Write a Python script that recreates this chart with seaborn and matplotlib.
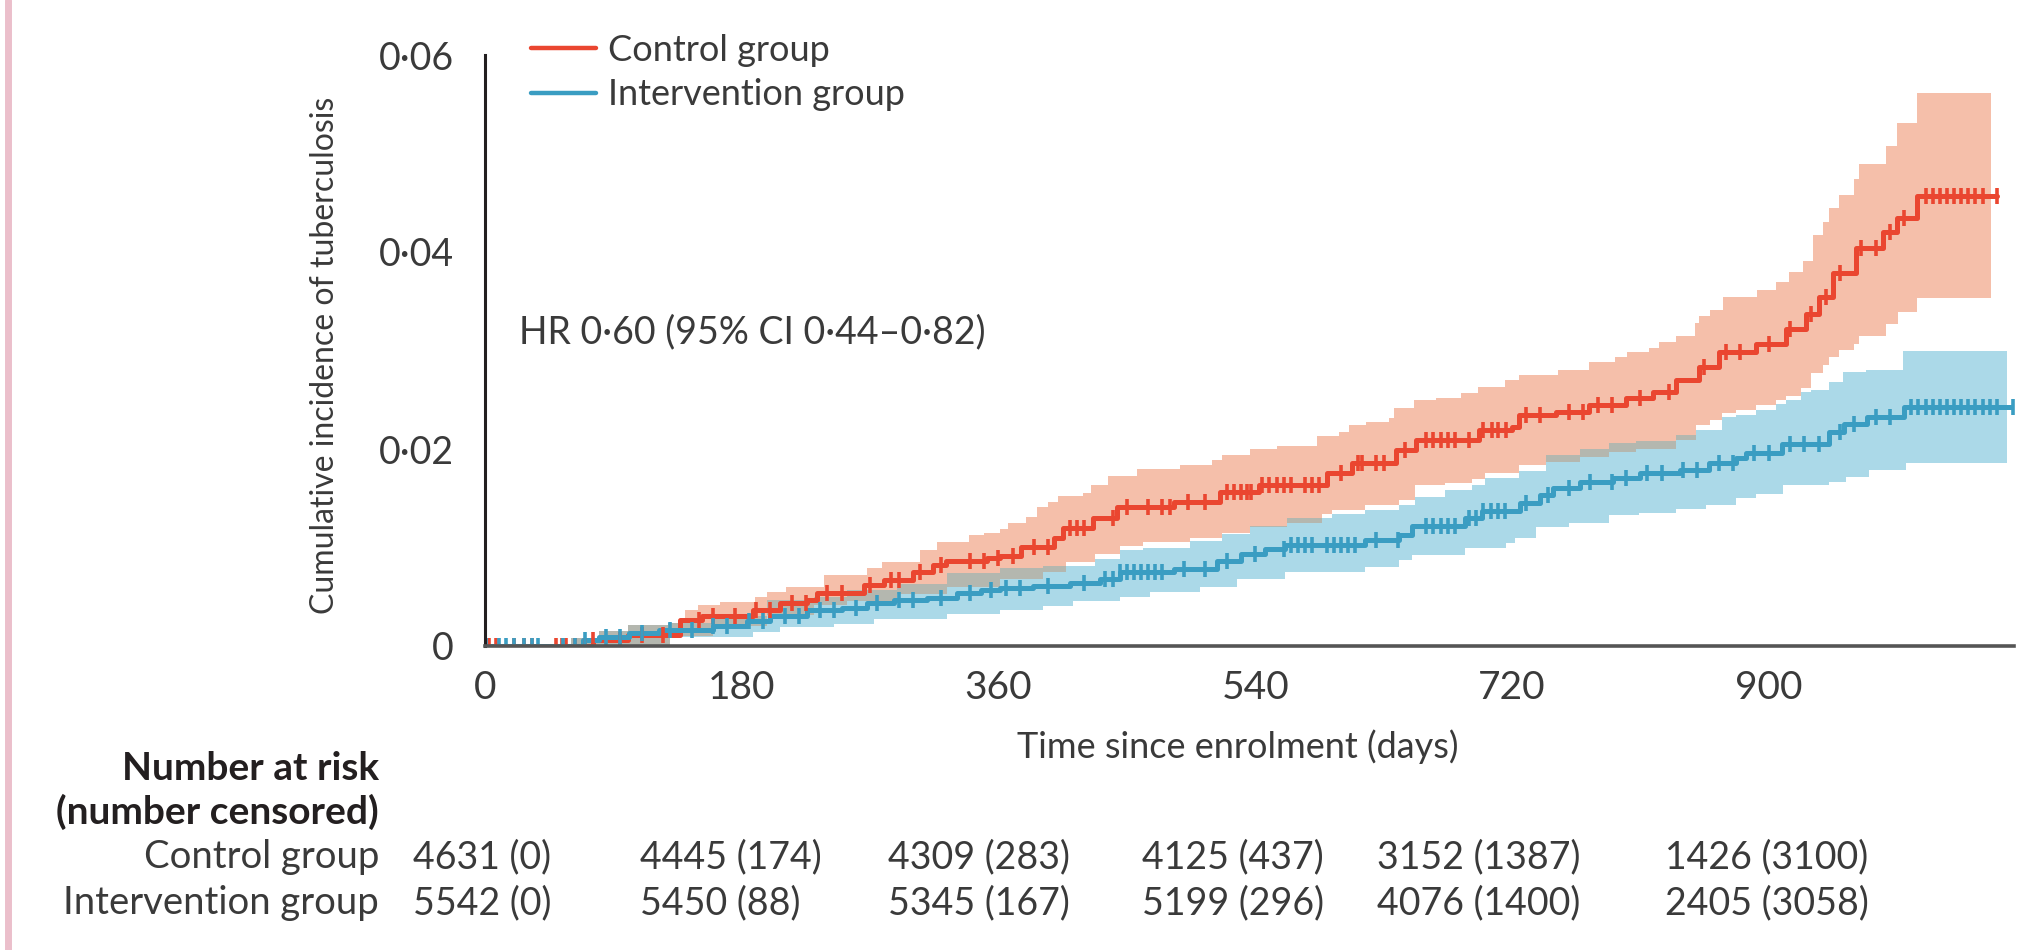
#%% Imports

import numpy as np
import pandas as pd
import matplotlib
matplotlib.use('Agg')
import matplotlib.pyplot as plt
from matplotlib.lines import Line2D
import seaborn as sns

#%% Data

groups = ['Control group', 'Intervention group']

# cumulative incidence step curves: day where each step starts, value after it
ctrl_days = [0, 76, 100, 137, 152, 188, 207, 226, 233, 266,
             280, 300, 314, 323, 352, 361, 376, 399, 405, 426,
             443, 483, 515, 543, 590, 608, 639, 653, 697, 720,
             725, 751, 774, 800, 819, 835, 851, 865, 891, 912,
             926, 935, 945, 961, 980, 990, 1004, 1060]
ctrl_val = [0, 0.0006, 0.0011, 0.0026, 0.0030, 0.0037, 0.0044, 0.0047, 0.0054, 0.0062,
            0.0067, 0.0075, 0.0082, 0.0086, 0.0089, 0.0091, 0.0101, 0.0110, 0.0120, 0.0130,
            0.0141, 0.0146, 0.0156, 0.0163, 0.0176, 0.0186, 0.0199, 0.0209, 0.0219, 0.0222,
            0.0235, 0.0238, 0.0245, 0.0252, 0.0258, 0.0270, 0.0283, 0.0298, 0.0307, 0.0322,
            0.0337, 0.0354, 0.0379, 0.0404, 0.0420, 0.0435, 0.0457, 0.0457]

int_days = [0, 69, 80, 101, 122, 160, 184, 200, 226, 250,
            268, 287, 310, 331, 348, 361, 384, 410, 431, 445,
            483, 513, 530, 547, 561, 617, 641, 650, 687, 699,
            726, 740, 749, 768, 791, 810, 838, 858, 877, 884,
            909, 942, 953, 969, 995, 1071]
int_val = [0, 0.0006, 0.0009, 0.0013, 0.0016, 0.0020, 0.0025, 0.0030, 0.0037, 0.0039,
           0.0044, 0.0047, 0.0049, 0.0054, 0.0057, 0.0059, 0.0061, 0.0064, 0.0068, 0.0075,
           0.0078, 0.0086, 0.0093, 0.0098, 0.0103, 0.0108, 0.0113, 0.0122, 0.0130, 0.0137,
           0.0145, 0.0153, 0.0160, 0.0166, 0.0171, 0.0176, 0.0179, 0.0186, 0.0191, 0.0196,
           0.0205, 0.0217, 0.0225, 0.0232, 0.0243, 0.0243]

# 95% CI bands
ctrl_hi_days = [0, 75, 100, 120, 135, 140, 149, 165, 189, 198,
                211, 238, 268, 278, 305, 317, 339, 350, 361, 367,
                379, 387, 395, 402, 419, 425, 437, 457, 487, 510,
                517, 536, 555, 583, 599, 606, 618, 634, 637, 651,
                667, 684, 696, 715, 725, 752, 774, 792, 801, 816,
                823, 835, 848, 851, 859, 868, 892, 905, 914, 924,
                931, 938, 942, 949, 960, 963, 982, 990, 1004, 1056]
ctrl_hi_val = [0, 0.0006, 0.0012, 0.0015, 0.0023, 0.0037, 0.0042, 0.0045, 0.0050, 0.0055,
               0.0060, 0.0072, 0.0079, 0.0085, 0.0097, 0.0106, 0.0113, 0.0115, 0.0119, 0.0125,
               0.0131, 0.0141, 0.0146, 0.0152, 0.0155, 0.0163, 0.0173, 0.0180, 0.0184, 0.0189,
               0.0194, 0.0200, 0.0203, 0.0213, 0.0217, 0.0224, 0.0227, 0.0231, 0.0242, 0.0250,
               0.0252, 0.0257, 0.0263, 0.0270, 0.0275, 0.0280, 0.0288, 0.0293, 0.0298, 0.0303,
               0.0309, 0.0315, 0.0328, 0.0335, 0.0341, 0.0354, 0.0361, 0.0370, 0.0380, 0.0391,
               0.0417, 0.0430, 0.0445, 0.0458, 0.0474, 0.0489, 0.0508, 0.0531, 0.0561, 0.0561]

ctrl_lo_days = [0, 130, 160, 198, 231, 254, 289, 324, 361, 391,
                407, 428, 445, 461, 494, 517, 536, 562, 587, 594,
                617, 641, 652, 673, 692, 701, 725, 744, 768, 788,
                807, 835, 849, 859, 867, 877, 891, 905, 912, 923,
                930, 938, 942, 949, 960, 963, 982, 991, 1004, 1056]
ctrl_lo_val = [0, 0.0010, 0.0020, 0.0031, 0.0042, 0.0046, 0.0053, 0.0060, 0.0068, 0.0075,
               0.0085, 0.0093, 0.0102, 0.0106, 0.0110, 0.0115, 0.0121, 0.0125, 0.0134, 0.0138,
               0.0143, 0.0148, 0.0163, 0.0165, 0.0170, 0.0176, 0.0184, 0.0187, 0.0192, 0.0197,
               0.0200, 0.0209, 0.0224, 0.0229, 0.0237, 0.0240, 0.0245, 0.0250, 0.0254, 0.0262,
               0.0277, 0.0285, 0.0293, 0.0301, 0.0307, 0.0315, 0.0327, 0.0339, 0.0353, 0.0353]

int_hi_days = [0, 60, 80, 100, 128, 160, 198, 231, 254, 289,
               324, 361, 391, 428, 445, 461, 494, 517, 536, 562,
               594, 617, 641, 652, 673, 692, 701, 725, 744, 768,
               788, 807, 835, 849, 867, 877, 891, 905, 912, 923,
               930, 942, 952, 968, 994, 1067]
int_hi_val = [0, 0.0008, 0.0015, 0.0021, 0.0023, 0.0030, 0.0047, 0.0050, 0.0057, 0.0063,
              0.0074, 0.0079, 0.0081, 0.0088, 0.0097, 0.0100, 0.0107, 0.0114, 0.0122, 0.0130,
              0.0134, 0.0138, 0.0143, 0.0151, 0.0158, 0.0163, 0.0171, 0.0178, 0.0194, 0.0200,
              0.0206, 0.0208, 0.0214, 0.0219, 0.0232, 0.0235, 0.0240, 0.0246, 0.0250, 0.0258,
              0.0260, 0.0268, 0.0278, 0.0280, 0.0299, 0.0299]

int_lo_days = [0, 100, 126, 188, 207, 245, 273, 324, 361, 391,
               412, 445, 466, 501, 527, 561, 617, 641, 650, 687,
               716, 722, 737, 760, 788, 809, 835, 856, 877, 891,
               910, 942, 954, 970, 996, 1067]
int_lo_val = [0, 0.0003, 0.0009, 0.0014, 0.0019, 0.0022, 0.0027, 0.0032, 0.0037, 0.0041,
              0.0046, 0.0050, 0.0055, 0.0060, 0.0068, 0.0075, 0.0080, 0.0087, 0.0092, 0.0100,
              0.0105, 0.0110, 0.0121, 0.0125, 0.0133, 0.0135, 0.0139, 0.0143, 0.0150, 0.0154,
              0.0163, 0.0166, 0.0172, 0.0179, 0.0186, 0.0186]

# censoring marks (days)
ctrl_cens = [3, 8, 20, 27, 33, 50, 54, 57, 63, 70, 76, 95, 110, 125, 150, 160, 175,
             190, 200, 215, 225, 240, 250, 270, 285, 290, 305, 320, 340, 350, 360,
             370, 385, 395, 410, 415, 420, 440, 450, 465, 475, 480, 493, 505, 520,
             525, 530, 534, 537, 545, 550, 555, 560, 565, 575, 580, 585, 600, 612,
             615, 625, 630, 645, 660, 665, 670, 675, 680, 690, 700, 706, 710, 716,
             730, 740, 760, 770, 780, 790, 810, 830, 855, 870, 880, 900, 915, 930,
             940, 950, 965, 975, 985, 995, 1010, 1015, 1020, 1025, 1030, 1035,
             1040, 1045, 1050, 1060]
int_cens = [1, 10, 15, 20, 27, 33, 37, 55, 63, 70, 85, 95, 110, 130, 145, 160, 170,
            185, 195, 210, 220, 235, 245, 260, 275, 290, 300, 320, 340, 355, 365,
            375, 395, 420, 435, 440, 445, 450, 455, 460, 465, 470, 475, 490, 505,
            520, 540, 560, 565, 570, 575, 580, 590, 595, 600, 605, 610, 625, 640,
            660, 665, 670, 675, 680, 690, 695, 700, 705, 710, 715, 730, 745, 760,
            775, 790, 800, 815, 825, 840, 850, 865, 875, 890, 900, 915, 925, 935,
            950, 960, 975, 985, 1000, 1005, 1010, 1015, 1020, 1025, 1030, 1035,
            1040, 1045, 1050, 1055, 1060, 1071]

x_ticks = [0, 180, 360, 540, 720, 900]
y_ticks = [0, 0.02, 0.04, 0.06]
y_ticklabels = ['0', '0·02', '0·04', '0·06']

risk_ctrl = ['4631 (0)', '4445 (174)', '4309 (283)', '4125 (437)', '3152 (1387)', '1426 (3100)']
risk_int = ['5542 (0)', '5450 (88)', '5345 (167)', '5199 (296)', '4076 (1400)', '2405 (3058)']

hr_text = 'HR 0·60 (95% CI 0·44–0·82)'

#%% Style

red = '#EA4630'
blue = '#3A9DC2'
red_fill = '#F5BFAA'
blue_fill = '#ABD9E8'
overlap_fill = '#B4B7AF'
txt = '#3a3a3a'
dark = '#231F20'

sns.set_style('white')
plt.rcParams['font.family'] = ['Lato', 'DejaVu Sans']

W, H = 2044, 950


def step_at(days, vals, t):
    idx = np.searchsorted(days, t, side='right') - 1
    return np.asarray(vals)[idx]


def fx(px):
    return px / W


def fy(py):
    return 1 - py / H


#%% Figure

fig = plt.figure(figsize=(W / 100, H / 100), dpi=100)
ax = fig.add_axes([fx(485), fy(646), (2014 - 485) / W, (646 - 55) / H])

# CI bands
for lo_d, lo_v, hi_d, hi_v, col in [
        (int_lo_days, int_lo_val, int_hi_days, int_hi_val, blue_fill),
        (ctrl_lo_days, ctrl_lo_val, ctrl_hi_days, ctrl_hi_val, red_fill)]:
    grid = np.union1d(lo_d, hi_d)
    ax.fill_between(grid, step_at(lo_d, lo_v, grid), step_at(hi_d, hi_v, grid),
                    step='post', color=col, lw=0)

# overlap of the two bands
grid = np.union1d(ctrl_lo_days, int_hi_days)
grid = grid[grid <= min(ctrl_lo_days[-1], int_hi_days[-1])]
lo = step_at(ctrl_lo_days, ctrl_lo_val, grid)
hi = step_at(int_hi_days, int_hi_val, grid)
ax.fill_between(grid, lo, np.maximum(hi, lo), step='post', color=overlap_fill, lw=0)

# KM curves
curves = pd.DataFrame({
    'day': ctrl_days + int_days,
    'incidence': ctrl_val + int_val,
    'group': [groups[0]] * len(ctrl_days) + [groups[1]] * len(int_days)})
palette = {groups[0]: red, groups[1]: blue}
sns.lineplot(data=curves, x='day', y='incidence', hue='group', palette=palette,
             estimator=None, drawstyle='steps-post', lw=3.6, legend=False, ax=ax)

# censor marks
for d, v, c, col in [(ctrl_days, ctrl_val, ctrl_cens, red), (int_days, int_val, int_cens, blue)]:
    ax.plot(c, step_at(d, v, c), ls='none', marker='|', ms=12, mew=2.6, color=col)

#%% Axes

ax.set_xlim(0, 1072)
ax.set_ylim(0, 0.06)
ax.set_xticks(x_ticks)
ax.set_yticks(y_ticks)
ax.set_yticklabels(y_ticklabels)
ax.set_xlabel('')
ax.set_ylabel('')
sns.despine(ax=ax)
ax.spines['left'].set_color(dark)
ax.spines['left'].set_linewidth(2.2)
ax.spines['bottom'].set_color('#555555')
ax.spines['bottom'].set_linewidth(2.6)
ax.tick_params(axis='y', direction='out', length=14.5, width=2.2, color='#6d6d6d',
               pad=8, labelsize=27, labelcolor=txt)
ax.tick_params(axis='x', direction='out', length=12, width=2.2, color='#444444',
               pad=5, labelsize=28, labelcolor=txt)

fig.text(fx(325), fy(355), 'Cumulative incidence of tuberculosis', rotation=90,
         ha='center', va='center', fontsize=23, color=txt)
fig.text(fx(1238), fy(747), 'Time since enrolment (days)', ha='center', va='center',
         fontsize=26, color=txt)
fig.text(fx(519), fy(332), hr_text, ha='left', va='center', fontsize=27, color=txt)

handles = [Line2D([], [], color=red, lw=3.2), Line2D([], [], color=blue, lw=3.2)]
ax.legend(handles, groups, loc='upper left', bbox_to_anchor=(fx(531), fy(34)),
          bbox_transform=fig.transFigure, frameon=False, fontsize=26, borderpad=0,
          borderaxespad=0, handlelength=1.8, handletextpad=0.33, labelspacing=0.31,
          labelcolor=txt)

#%% Number at risk table

fig.text(fx(379), fy(768), 'Number at risk', ha='right', va='center', fontsize=28,
         fontweight='bold', color=dark)
fig.text(fx(379), fy(812), '(number censored)', ha='right', va='center', fontsize=28,
         fontweight='bold', color=dark)
fig.text(fx(379), fy(857), groups[0], ha='right', va='center', fontsize=27.5, color=txt)
fig.text(fx(379), fy(903), groups[1], ha='right', va='center', fontsize=27.5, color=txt)

col_x = [413, 640, 888, 1142, 1377, 1665]
for cx, a, b in zip(col_x, risk_ctrl, risk_int):
    fig.text(fx(cx), fy(857), a, ha='left', va='center', fontsize=27, color=txt)
    fig.text(fx(cx), fy(903), b, ha='left', va='center', fontsize=27, color=txt)

# pink margin rule
fig.add_artist(Line2D([fx(8), fx(8)], [0, 1], transform=fig.transFigure,
                      color='#EBBFCB', lw=5))

fig.savefig('out.png', dpi=100)
